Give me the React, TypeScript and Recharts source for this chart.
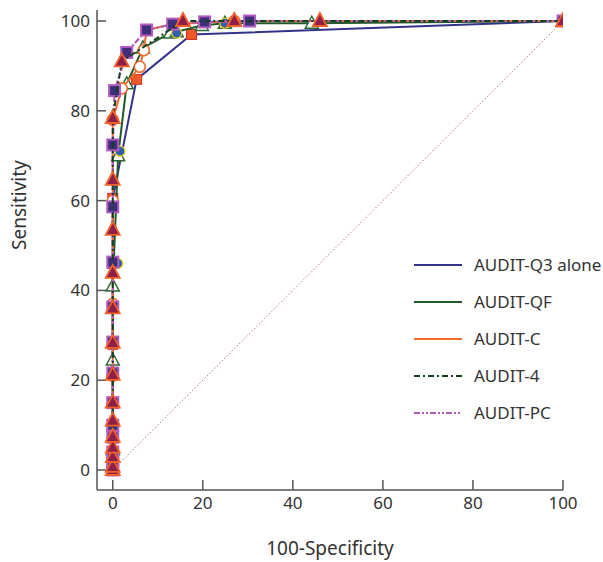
import { ScatterChart, Scatter, XAxis, YAxis, ReferenceLine, Legend } from 'recharts';

// 100-Specificity (x) and Sensitivity (y), one pair of arrays per index
const q3X = [0, 0, 0, 0, 0, 5.3, 17.5, 100];
const q3Y = [0, 15, 28, 46, 60.5, 87, 97, 100];

const qfX = [0, 0, 0, 0, 0, 1.2, 3.1, 6.7, 12.7, 14.2, 19.8, 24.9, 44.2, 100];
const qfY = [0, 4.5, 11, 24.5, 41, 70, 86, 94, 97.3, 97.6, 99, 99.5, 99.5, 100];
// points on the QF curve drawn as filled circles
const qfDotX = [1.6, 1.1, 14.2, 24.9];
const qfDotY = [71, 46, 97.3, 99.5];

const cX = [0, 0, 0, 0, 0, 0, 0, 2, 6, 6.9, 7.5, 13.3, 27, 100];
const cY = [0, 3, 9, 21, 37, 60, 78, 85, 89.8, 93.5, 98, 99.3, 100, 100];

const a4X = [0, 0, 0, 0, 0, 0, 0, 0, 0, 0, 0, 0, 0, 0, 2, 15.6, 27, 46, 100];
const a4Y = [0, 0.7, 2.9, 5, 7.4, 11, 15, 21.2, 28.3, 36, 43.9, 53.5, 64.6, 78.4, 91, 100, 100, 100, 100];

const pcX = [0, 0, 0, 0, 0, 0, 0, 0, 0, 0, 0, 0, 0.4, 3.1, 7.5, 13.3, 20.4, 30.4, 100];
const pcY = [0, 2, 4, 7.3, 10, 15, 21.6, 28.5, 36.3, 46.3, 58.6, 72.4, 84.5, 93, 98, 99.3, 99.8, 100, 100];

const xTicks = [0, 20, 40, 60, 80, 100];
const yTicks = [0, 20, 40, 60, 80, 100];

const toPts = (xs: number[], ys: number[]) => xs.map((x, i) => ({ x, y: ys[i] }));

const series = [
  { name: 'AUDIT-Q3 alone', color: '#34338a', dash: undefined as string | undefined },
  { name: 'AUDIT-QF', color: '#21592a', dash: undefined },
  { name: 'AUDIT-C', color: '#f26a2c', dash: undefined },
  { name: 'AUDIT-4', color: '#123f1c', dash: '6 3 2 3' },
  { name: 'AUDIT-PC', color: '#b357b8', dash: '6 2 2 2 2 2' },
];

const FONT = '"Noto Sans", sans-serif';

const OrangeSquare = (p: any) => (
  <rect x={p.cx - 5} y={p.cy - 5} width={10} height={10} fill="#f05a28" stroke="#c8342a" strokeWidth={1} />
);
const HollowTriangle = (p: any) => (
  <polygon
    points={`${p.cx},${p.cy - 7} ${p.cx - 6.5},${p.cy + 5} ${p.cx + 6.5},${p.cy + 5}`}
    fill="#fff"
    stroke="#2a6a33"
    strokeWidth={1.5}
  />
);
const BlueDot = (p: any) => <circle cx={p.cx} cy={p.cy} r={5} fill="#2f5fb0" stroke="#f2d21c" strokeWidth={1.2} />;
const HollowCircle = (p: any) => <circle cx={p.cx} cy={p.cy} r={5.5} fill="#fff" stroke="#f26a2c" strokeWidth={1.6} />;
const PurpleSquare = (p: any) => (
  <rect x={p.cx - 5.5} y={p.cy - 5.5} width={11} height={11} fill="#3d2f78" stroke="#b35cc0" strokeWidth={2} />
);
const RedTriangle = (p: any) => (
  <polygon
    points={`${p.cx},${p.cy - 8} ${p.cx - 7},${p.cy + 5} ${p.cx + 7},${p.cy + 5}`}
    fill="#8e1f4a"
    stroke="#f2602a"
    strokeWidth={1.8}
  />
);

const renderLegend = () => (
  <div style={{ fontFamily: FONT, fontSize: 17, color: '#333' }}>
    {series.map(s => (
      <div key={s.name} style={{ display: 'flex', alignItems: 'center', height: 37 }}>
        <svg width={52} height={10} style={{ marginRight: 10 }}>
          <line x1={2} y1={5} x2={50} y2={5} stroke={s.color} strokeWidth={2} strokeDasharray={s.dash} />
        </svg>
        <span>{s.name}</span>
      </div>
    ))}
  </div>
);

export default function App() {
  return (
    <div style={{ position: 'absolute', left: 0, top: 0 }}>
      <ScatterChart width={603} height={562} margin={{ top: 10, right: 40, bottom: 10, left: 37 }}>
        <XAxis
          type="number"
          dataKey="x"
          domain={[-3.5, 100]}
          ticks={xTicks}
          allowDataOverflow
          height={62}
          tickSize={-10}
          tickMargin={17}
          stroke="#555"
          strokeWidth={1.5}
          tick={{ fill: '#333', fontSize: 17, fontFamily: FONT }}
          label={{ value: '100-Specificity', position: 'insideBottom', offset: -3, fill: '#333', fontSize: 19, fontFamily: FONT }}
        />
        <YAxis
          type="number"
          dataKey="y"
          domain={[-4.45, 102.45]}
          ticks={yTicks}
          allowDataOverflow
          width={60}
          tickSize={-9}
          tickMargin={16}
          stroke="#555"
          strokeWidth={1.5}
          tick={{ fill: '#333', fontSize: 17, fontFamily: FONT }}
          label={{ value: 'Sensitivity', angle: -90, position: 'insideLeft', offset: -18, fill: '#333', fontSize: 19, fontFamily: FONT }}
        />
        <ReferenceLine
          segment={[{ x: 0, y: 0 }, { x: 100, y: 100 }]}
          stroke="#b57d86"
          strokeWidth={1}
          strokeDasharray="1.5 2"
          ifOverflow="visible"
        />
        <Scatter
          name="AUDIT-Q3 alone"
          data={toPts(q3X, q3Y)}
          line={{ stroke: series[0].color, strokeWidth: 2 }}
          shape={OrangeSquare}
          isAnimationActive={false}
        />
        <Scatter
          name="AUDIT-QF"
          data={toPts(qfX, qfY)}
          line={{ stroke: series[1].color, strokeWidth: 2 }}
          shape={HollowTriangle}
          isAnimationActive={false}
        />
        <Scatter name="AUDIT-QF points" data={toPts(qfDotX, qfDotY)} shape={BlueDot} isAnimationActive={false} />
        <Scatter
          name="AUDIT-C"
          data={toPts(cX, cY)}
          line={{ stroke: series[2].color, strokeWidth: 2 }}
          shape={HollowCircle}
          isAnimationActive={false}
        />
        <Scatter
          name="AUDIT-PC"
          data={toPts(pcX, pcY)}
          line={{ stroke: series[4].color, strokeWidth: 2.2, strokeDasharray: series[4].dash }}
          shape={PurpleSquare}
          isAnimationActive={false}
        />
        <Scatter
          name="AUDIT-4"
          data={toPts(a4X, a4Y)}
          line={{ stroke: series[3].color, strokeWidth: 2, strokeDasharray: series[3].dash }}
          shape={RedTriangle}
          isAnimationActive={false}
        />
        <Legend
          layout="horizontal"
          verticalAlign="middle"
          content={renderLegend}
          wrapperStyle={{ left: 412, top: 246, width: 191 }}
        />
      </ScatterChart>
    </div>
  );
}
